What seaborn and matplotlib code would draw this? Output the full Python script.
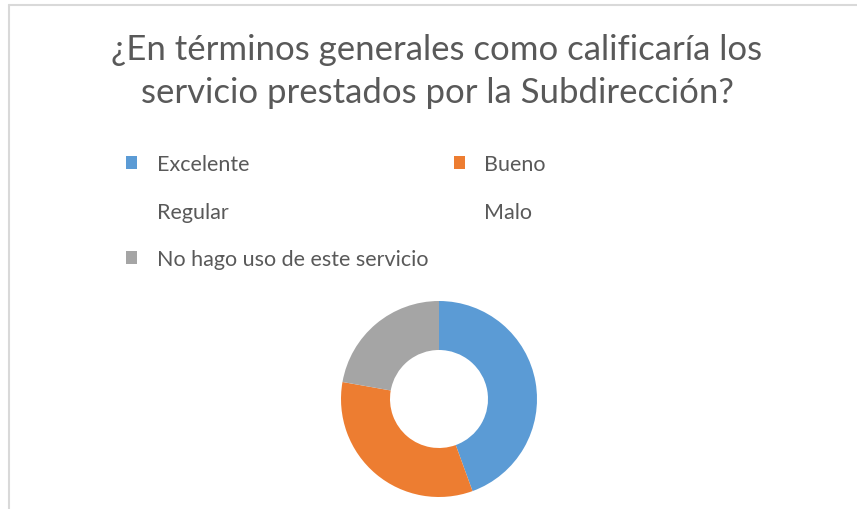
import matplotlib
matplotlib.use("Agg")
import matplotlib.pyplot as plt
from matplotlib.patches import Patch
from matplotlib.lines import Line2D
import seaborn as sns

categories = ["Excelente", "Bueno", "Regular", "Malo", "No hago uso de este servicio"]
counts = [20, 15, 0, 0, 10]
title = "¿En términos generales como calificaría los\nservicio prestados por la Subdirección?"

# office palette
colors = ["#5B9BD5", "#ED7D31", "#FFC000", "#4472C4", "#A5A5A5"]

sns.set_theme(style="white")
plt.rcParams['font.family'] = ['Lato', 'DejaVu Sans']
text_color = "#595959"

W, H = 857, 510
fig = plt.figure(figsize=(W / 100, H / 100), dpi=100)
fig.patch.set_facecolor("white")

# chart border (only top and left visible in the crop)
fig.add_artist(Line2D([8.5 / W, 1], [1 - 5.5 / H, 1 - 5.5 / H], color="#D9D9D9", lw=1.5))
fig.add_artist(Line2D([8.5 / W, 8.5 / W], [0, 1 - 5.5 / H], color="#D9D9D9", lw=1.5))

fig.text(437 / W, 1 - 71.5 / H, title, ha="center", va="center", fontsize=25,
         color=text_color, linespacing=1.45)

# doughnut
cx, cy, size = 439, 400, 200
ax = fig.add_axes([(cx - size / 2) / W, (H - cy - size / 2) / H, size / W, size / H])
ax.pie(counts, colors=colors, radius=0.98, startangle=90, counterclock=False,
       wedgeprops=dict(width=0.49, linewidth=0))
ax.set_xlim(-1, 1)
ax.set_ylim(-1, 1)
ax.set_aspect("equal")
ax.axis("off")

# legend, entries with zero share have no marker
handles = []
for c, v in zip(colors, counts):
    if v > 0:
        handles.append(Patch(facecolor=c, edgecolor="none"))
    else:
        handles.append(Patch(facecolor="none", edgecolor="none"))
# matplotlib fills legend columns first, so reorder to read row by row
order = [0, 2, 4, 1, 3]
leg = fig.legend([handles[i] for i in order], [categories[i] for i in order],
                 ncol=2, loc="upper left", bbox_to_anchor=(126 / W, 1 - 155 / H),
                 frameon=False, fontsize=15.5, borderpad=0, borderaxespad=0,
                 handlelength=0.52, handleheight=0.52,
                 handletextpad=0.9, columnspacing=1.2, labelspacing=1.28,
                 labelcolor=text_color)

fig.savefig("out.png", dpi=100, facecolor="white")
